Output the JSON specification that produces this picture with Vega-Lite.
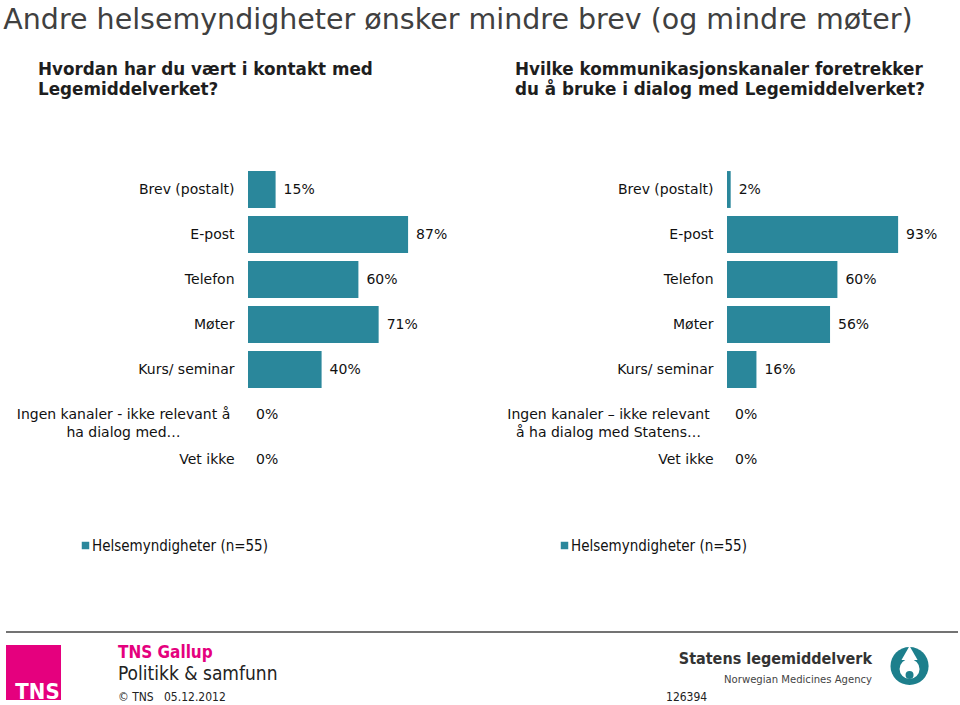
{
  "$schema": "https://vega.github.io/schema/vega-lite/v6.json",
  "padding": {"left": 3, "top": 5, "right": 0, "bottom": 0},
  "background": "white",
  "config": {
    "view": {"stroke": null},
    "font": "DejaVu Sans",
    "text": {"font": "DejaVu Sans"}
  },
  "title": {
    "text": "Andre helsemyndigheter ønsker mindre brev (og mindre møter)",
    "anchor": "start",
    "font": "DejaVu Sans",
    "fontSize": 28.5,
    "fontWeight": "normal",
    "color": "#404040",
    "offset": 28,
    "dx": -2
  },
  "spacing": 77,
  "vconcat": [
    {
      "spacing": 49,
      "resolve": {"scale": {"color": "independent", "x": "independent", "y": "independent"}, "legend": {"color": "independent"}},
      "hconcat": [
        {
          "width": 184,
          "height": 315,
          "title": {
            "text": ["Hvordan har du vært i kontakt med", "Legemiddelverket?"],
            "anchor": "start",
            "font": "DejaVu Sans",
            "fontWeight": "bold",
            "fontSize": 16.8,
            "lineHeight": 20,
            "color": "#1e1e1e",
            "dx": 32,
            "offset": 68
          },
          "data": {"values": [
            {"kanal": "Brev (postalt)", "andel": 0.15, "gruppe": "Helsemyndigheter (n=55)"},
            {"kanal": "E-post", "andel": 0.87, "gruppe": "Helsemyndigheter (n=55)"},
            {"kanal": "Telefon", "andel": 0.60, "gruppe": "Helsemyndigheter (n=55)"},
            {"kanal": "Møter", "andel": 0.71, "gruppe": "Helsemyndigheter (n=55)"},
            {"kanal": "Kurs/ seminar", "andel": 0.40, "gruppe": "Helsemyndigheter (n=55)"},
            {"kanal": "Ingen kanaler - ikke relevant å\nha dialog med…", "andel": 0, "gruppe": "Helsemyndigheter (n=55)"},
            {"kanal": "Vet ikke", "andel": 0, "gruppe": "Helsemyndigheter (n=55)"}
          ]},
          "encoding": {
            "y": {
              "field": "kanal", "type": "nominal", "sort": null,
              "scale": {"paddingInner": 0.18, "paddingOuter": 0.09},
              "axis": {
                "title": null, "domain": false, "ticks": false, "grid": false,
                "minExtent": 242, "maxExtent": 242,
                "labelFont": "DejaVu Sans", "labelFontSize": 14, "labelColor": "#111",
                "labelLimit": 400, "labelLineHeight": 18,
                "labelExpr": "split(datum.label, '\\n')",
                "labelAlign": {"condition": {"test": "indexof(datum.value, 'Ingen') === 0", "value": "center"}, "value": "right"},
                "labelPadding": {"condition": {"test": "indexof(datum.value, 'Ingen') === 0", "value": 125}, "value": 14}
              }
            }
          },
          "layer": [
            {
              "mark": {"type": "bar"},
              "encoding": {
                "x": {"field": "andel", "type": "quantitative", "scale": {"domain": [0, 1]}, "axis": null},
                "color": {
                  "field": "gruppe", "type": "nominal",
                  "scale": {"range": ["#2a879b"]},
                  "legend": {
                    "orient": "none", "legendX": -170, "legendY": 371, "title": null,
                    "symbolType": "square", "symbolSize": 56, "symbolStrokeWidth": 0,
                    "labelFont": "DejaVu Sans Condensed", "labelFontSize": 15, "labelColor": "#111", "labelOffset": -1, "labelLimit": 400
                  }
                }
              }
            },
            {
              "mark": {"type": "text", "align": "left", "baseline": "middle", "dx": 8, "fontSize": 14, "color": "#111", "font": "DejaVu Sans"},
              "encoding": {
                "x": {"field": "andel", "type": "quantitative", "scale": {"domain": [0, 1]}, "axis": null},
                "text": {"field": "andel", "type": "quantitative", "format": ".0%"}
              }
            }
          ]
        },
        {
          "width": 184,
          "height": 315,
          "title": {
            "text": ["Hvilke kommunikasjonskanaler foretrekker", "du å bruke i dialog med Legemiddelverket?"],
            "anchor": "start",
            "font": "DejaVu Sans",
            "fontWeight": "bold",
            "fontSize": 16.8,
            "lineHeight": 20,
            "color": "#1e1e1e",
            "dx": 18,
            "offset": 68
          },
          "data": {"values": [
            {"kanal": "Brev (postalt)", "andel": 0.02, "gruppe": "Helsemyndigheter (n=55)"},
            {"kanal": "E-post", "andel": 0.93, "gruppe": "Helsemyndigheter (n=55)"},
            {"kanal": "Telefon", "andel": 0.60, "gruppe": "Helsemyndigheter (n=55)"},
            {"kanal": "Møter", "andel": 0.56, "gruppe": "Helsemyndigheter (n=55)"},
            {"kanal": "Kurs/ seminar", "andel": 0.16, "gruppe": "Helsemyndigheter (n=55)"},
            {"kanal": "Ingen kanaler – ikke relevant\nå ha dialog med Statens…", "andel": 0, "gruppe": "Helsemyndigheter (n=55)"},
            {"kanal": "Vet ikke", "andel": 0, "gruppe": "Helsemyndigheter (n=55)"}
          ]},
          "encoding": {
            "y": {
              "field": "kanal", "type": "nominal", "sort": null,
              "scale": {"paddingInner": 0.18, "paddingOuter": 0.09},
              "axis": {
                "title": null, "domain": false, "ticks": false, "grid": false,
                "minExtent": 230, "maxExtent": 230,
                "labelFont": "DejaVu Sans", "labelFontSize": 14, "labelColor": "#111",
                "labelLimit": 400, "labelLineHeight": 18,
                "labelExpr": "split(datum.label, '\\n')",
                "labelAlign": {"condition": {"test": "indexof(datum.value, 'Ingen') === 0", "value": "center"}, "value": "right"},
                "labelPadding": {"condition": {"test": "indexof(datum.value, 'Ingen') === 0", "value": 119}, "value": 14}
              }
            }
          },
          "layer": [
            {
              "mark": {"type": "bar"},
              "encoding": {
                "x": {"field": "andel", "type": "quantitative", "scale": {"domain": [0, 1]}, "axis": null},
                "color": {
                  "field": "gruppe", "type": "nominal",
                  "scale": {"range": ["#2a879b"]},
                  "legend": {
                    "orient": "none", "legendX": -170, "legendY": 371, "title": null,
                    "symbolType": "square", "symbolSize": 56, "symbolStrokeWidth": 0,
                    "labelFont": "DejaVu Sans Condensed", "labelFontSize": 15, "labelColor": "#111", "labelOffset": -1, "labelLimit": 400
                  }
                }
              }
            },
            {
              "mark": {"type": "text", "align": "left", "baseline": "middle", "dx": 8, "fontSize": 14, "color": "#111", "font": "DejaVu Sans"},
              "encoding": {
                "x": {"field": "andel", "type": "quantitative", "scale": {"domain": [0, 1]}, "axis": null},
                "text": {"field": "andel", "type": "quantitative", "format": ".0%"}
              }
            }
          ]
        }
      ]
    },
    {
      "width": 710,
      "height": 70,
      "layer": [
        {
          "data": {"values": [{"element": "skillelinje"}]},
          "mark": {"type": "rule", "color": "#444444", "strokeWidth": 1.5},
          "encoding": {
            "x": {"datum": 0, "type": "quantitative", "scale": {"domain": [25.42, 100], "zero": false}, "axis": null},
            "x2": {"datum": 100},
            "y": {"datum": 0, "type": "quantitative", "scale": {"domain": [0, 100], "reverse": true}, "axis": null}
          }
        },
        {
          "data": {"values": [{"element": "TNS-logo"}]},
          "mark": {"type": "point", "shape": "square", "filled": true, "color": "#e5007e", "opacity": 1, "size": 3025},
          "encoding": {
            "x": {"datum": 2.889, "type": "quantitative", "scale": {"domain": [25.42, 100], "zero": false}, "axis": null},
            "y": {"datum": 57.86, "type": "quantitative", "scale": {"domain": [0, 100], "reverse": true}, "axis": null}
          }
        },
        {
          "data": {"values": [{"tekst": "TNS"}]},
          "mark": {"type": "text", "align": "center", "baseline": "middle", "font": "DejaVu Sans Condensed", "fontWeight": "bold", "fontSize": 22, "color": "white"},
          "encoding": {
            "x": {"datum": 3.309, "type": "quantitative", "scale": {"domain": [25.42, 100], "zero": false}, "axis": null},
            "y": {"datum": 85.7, "type": "quantitative", "scale": {"domain": [0, 100], "reverse": true}, "axis": null},
            "text": {"field": "tekst"}
          }
        },
        {
          "data": {"values": [{"tekst": "TNS Gallup"}]},
          "mark": {"type": "text", "align": "left", "baseline": "middle", "font": "DejaVu Sans Condensed", "fontWeight": "bold", "fontSize": 17, "color": "#e5007e"},
          "encoding": {
            "x": {"datum": 11.76, "type": "quantitative", "scale": {"domain": [25.42, 100], "zero": false}, "axis": null},
            "y": {"datum": 30, "type": "quantitative", "scale": {"domain": [0, 100], "reverse": true}, "axis": null},
            "text": {"field": "tekst"}
          }
        },
        {
          "data": {"values": [{"tekst": "Politikk & samfunn"}]},
          "mark": {"type": "text", "align": "left", "baseline": "middle", "font": "DejaVu Sans Condensed", "fontSize": 19, "color": "#222222"},
          "encoding": {
            "x": {"datum": 11.76, "type": "quantitative", "scale": {"domain": [25.42, 100], "zero": false}, "axis": null},
            "y": {"datum": 60, "type": "quantitative", "scale": {"domain": [0, 100], "reverse": true}, "axis": null},
            "text": {"field": "tekst"}
          }
        },
        {
          "data": {"values": [{"tekst": "© TNS\u00a0\u00a0 05.12.2012"}]},
          "mark": {"type": "text", "align": "left", "baseline": "middle", "font": "DejaVu Sans Condensed", "fontSize": 12, "color": "#222222"},
          "encoding": {
            "x": {"datum": 11.76, "type": "quantitative", "scale": {"domain": [25.42, 100], "zero": false}, "axis": null},
            "y": {"datum": 92.86, "type": "quantitative", "scale": {"domain": [0, 100], "reverse": true}, "axis": null},
            "text": {"field": "tekst"}
          }
        },
        {
          "data": {"values": [{"tekst": "126394"}]},
          "mark": {"type": "text", "align": "left", "baseline": "middle", "font": "DejaVu Sans Condensed", "fontSize": 12, "color": "#222222"},
          "encoding": {
            "x": {"datum": 69.33, "type": "quantitative", "scale": {"domain": [25.42, 100], "zero": false}, "axis": null},
            "y": {"datum": 92.86, "type": "quantitative", "scale": {"domain": [0, 100], "reverse": true}, "axis": null},
            "text": {"field": "tekst"}
          }
        },
        {
          "data": {"values": [{"tekst": "Statens legemiddelverk"}]},
          "mark": {"type": "text", "align": "right", "baseline": "middle", "font": "DejaVu Sans Condensed", "fontWeight": "bold", "fontSize": 16, "color": "#333333"},
          "encoding": {
            "x": {"datum": 90.97, "type": "quantitative", "scale": {"domain": [25.42, 100], "zero": false}, "axis": null},
            "y": {"datum": 38.57, "type": "quantitative", "scale": {"domain": [0, 100], "reverse": true}, "axis": null},
            "text": {"field": "tekst"}
          }
        },
        {
          "data": {"values": [{"tekst": "Norwegian Medicines Agency"}]},
          "mark": {"type": "text", "align": "right", "baseline": "middle", "font": "DejaVu Sans Condensed", "fontSize": 11.2, "color": "#444444"},
          "encoding": {
            "x": {"datum": 90.97, "type": "quantitative", "scale": {"domain": [25.42, 100], "zero": false}, "axis": null},
            "y": {"datum": 68.57, "type": "quantitative", "scale": {"domain": [0, 100], "reverse": true}, "axis": null},
            "text": {"field": "tekst"}
          }
        },
        {
          "data": {"values": [{"element": "logo-ring"}]},
          "mark": {"type": "point", "shape": "circle", "filled": true, "color": "#1d7f8c", "opacity": 1, "size": 1452},
          "encoding": {
            "x": {"datum": 94.91, "type": "quantitative", "scale": {"domain": [25.42, 100], "zero": false}, "axis": null},
            "y": {"datum": 48.57, "type": "quantitative", "scale": {"domain": [0, 100], "reverse": true}, "axis": null}
          }
        },
        {
          "data": {"values": [{"element": "logo-dråpe"}]},
          "mark": {"type": "point", "shape": "circle", "filled": true, "color": "white", "opacity": 1, "size": 400},
          "encoding": {
            "x": {"datum": 94.91, "type": "quantitative", "scale": {"domain": [25.42, 100], "zero": false}, "axis": null},
            "y": {"datum": 52.9, "type": "quantitative", "scale": {"domain": [0, 100], "reverse": true}, "axis": null}
          }
        },
        {
          "data": {"values": [{"element": "logo-spiss"}]},
          "mark": {"type": "point", "shape": "triangle-up", "filled": true, "color": "white", "opacity": 1, "size": 260},
          "encoding": {
            "x": {"datum": 94.91, "type": "quantitative", "scale": {"domain": [25.42, 100], "zero": false}, "axis": null},
            "y": {"datum": 30, "type": "quantitative", "scale": {"domain": [0, 100], "reverse": true}, "axis": null}
          }
        },
        {
          "data": {"values": [{"element": "logo-prikk"}]},
          "mark": {"type": "point", "shape": "circle", "filled": true, "color": "#1d7f8c", "opacity": 1, "size": 64},
          "encoding": {
            "x": {"datum": 94.91, "type": "quantitative", "scale": {"domain": [25.42, 100], "zero": false}, "axis": null},
            "y": {"datum": 61.4, "type": "quantitative", "scale": {"domain": [0, 100], "reverse": true}, "axis": null}
          }
        }
      ]
    }
  ]
}
